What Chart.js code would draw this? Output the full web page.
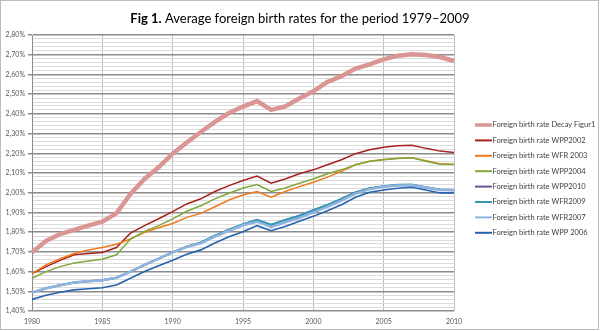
<!DOCTYPE html>
<html>
<head>
<meta charset="utf-8">
<script src="https://cdn.jsdelivr.net/npm/chart.js@4.4.1/dist/chart.umd.min.js"></script>
<style>
html,body{margin:0;padding:0;background:#fff;}
#wrap{width:600px;height:331px;position:relative;}
</style>
</head>
<body>
<div id="wrap"><canvas id="c" width="600" height="331"></canvas></div>
<script>
const years = [];
for (let y = 1980; y <= 2010; y++) years.push(String(y));

const titleBold = "Fig 1.";
const titleRest = " Average foreign birth rates for the period 1979\u20132009";

const seriesNames = [
  "Foreign birth rate Decay Figur1",
  "Foreign birth rate WPP2002",
  "Foreign birth rate WFR 2003",
  "Foreign birth rate WPP2004",
  "Foreign birth rate WPP2010",
  "Foreign birth rate WFR2009",
  "Foreign birth rate WFR2007",
  "Foreign birth rate WPP 2006"
];

const decayFigur1 = [1.697,1.756,1.790,1.812,1.833,1.853,1.895,1.994,2.070,2.129,2.198,2.255,2.308,2.359,2.404,2.437,2.465,2.420,2.438,2.478,2.515,2.562,2.591,2.630,2.651,2.676,2.695,2.702,2.698,2.688,2.668];
const wpp2002 = [1.590,1.625,1.657,1.685,1.692,1.697,1.722,1.795,1.833,1.868,1.904,1.943,1.969,2.006,2.036,2.062,2.084,2.048,2.070,2.096,2.116,2.142,2.167,2.198,2.218,2.231,2.238,2.241,2.225,2.211,2.204];
const wfr2003 = [1.590,1.634,1.665,1.692,1.710,1.722,1.739,1.765,1.799,1.822,1.844,1.875,1.895,1.929,1.963,1.988,2.006,1.977,2.006,2.031,2.053,2.079,2.108,2.142,2.160,2.169,2.175,2.177,2.162,2.147,2.145];
const wpp2004 = [1.566,1.600,1.625,1.643,1.654,1.663,1.685,1.765,1.804,1.833,1.867,1.906,1.934,1.969,1.997,2.024,2.041,2.006,2.024,2.048,2.070,2.096,2.116,2.142,2.160,2.167,2.174,2.177,2.160,2.145,2.143];
const wpp2010 = [1.493,1.515,1.531,1.544,1.551,1.556,1.569,1.600,1.634,1.666,1.697,1.726,1.747,1.781,1.812,1.839,1.861,1.837,1.861,1.882,1.911,1.937,1.968,2.001,2.022,2.032,2.039,2.040,2.027,2.015,2.013];
const wfr2009 = [1.493,1.515,1.531,1.544,1.551,1.556,1.569,1.600,1.634,1.666,1.697,1.726,1.748,1.782,1.813,1.840,1.862,1.838,1.862,1.883,1.912,1.938,1.969,2.002,2.023,2.033,2.040,2.041,2.028,2.016,2.014];
const wfr2007 = [1.493,1.515,1.531,1.544,1.551,1.556,1.569,1.600,1.634,1.666,1.697,1.726,1.743,1.777,1.807,1.835,1.853,1.827,1.850,1.872,1.900,1.928,1.960,1.995,2.018,2.030,2.037,2.038,2.026,2.014,2.012];
const wpp2006 = [1.459,1.480,1.495,1.507,1.513,1.518,1.532,1.566,1.600,1.629,1.658,1.688,1.710,1.745,1.777,1.802,1.833,1.807,1.829,1.855,1.880,1.909,1.939,1.977,2.002,2.014,2.023,2.028,2.014,1.999,1.999];

const seriesValues = [decayFigur1, wpp2002, wfr2003, wpp2004, wpp2010, wfr2009, wfr2007, wpp2006];
const seriesColors = ["#D99694","#A52220","#EE7A1E","#80A83A","#6E5494","#3399B5","#8FB4E0","#2662AE"];
const seriesWidths = [4.5,1.5,1.5,1.5,2,2,2.5,1.6];

const FONT = "Lato, 'Open Sans', 'Liberation Sans', sans-serif";

const datasets = seriesValues.map((vals, i) => ({
  label: seriesNames[i],
  data: vals,
  borderColor: seriesColors[i],
  backgroundColor: seriesColors[i],
  borderWidth: seriesWidths[i],
  pointRadius: 0,
  pointHoverRadius: 0,
  tension: 0,
  fill: false,
  order: seriesValues.length - i
}));

const extras = {
  id: 'extras',
  afterDraw(chart) {
    const ctx = chart.ctx;
    ctx.save();
    // outer border
    ctx.strokeStyle = '#bdbdbd';
    ctx.lineWidth = 1;
    ctx.strokeRect(0.5, 0.5, 598, 329);
    // title
    ctx.fillStyle = '#000';
    ctx.textBaseline = 'middle';
    ctx.font = "bold 13px " + FONT;
    const wb = ctx.measureText(titleBold).width;
    ctx.font = "13px " + FONT;
    const wr = ctx.measureText(titleRest).width;
    const x0 = 300 - (wb + wr) / 2;
    ctx.font = "bold 13px " + FONT;
    ctx.textAlign = 'left';
    ctx.fillText(titleBold, x0, 19);
    ctx.font = "13px " + FONT;
    ctx.fillText(titleRest, x0 + wb, 19);
    // legend
    ctx.font = "7.5px " + FONT;
    ctx.fillStyle = '#404040';
    chart.data.datasets.forEach((ds, i) => {
      const y = 125 + i * 15.4;
      ctx.strokeStyle = ds.borderColor;
      ctx.lineWidth = i === 0 ? 3.5 : 2;
      ctx.beginPath();
      ctx.moveTo(475, y);
      ctx.lineTo(492, y);
      ctx.stroke();
      ctx.fillText(ds.label, 492.5, y);
    });
    ctx.restore();
  }
};

new Chart(document.getElementById('c'), {
  type: 'line',
  data: { labels: years, datasets },
  options: {
    responsive: false,
    animation: false,
    devicePixelRatio: 1,
    layout: { padding: { top: 35, right: 146, bottom: 0, left: 0 } },
    plugins: { legend: { display: false }, tooltip: { enabled: false }, title: { display: false } },
    scales: {
      x: {
        type: 'category',
        offset: false,
        afterFit(s) { s.height = 20; },
        grid: {
          drawTicks: false,
          color: (c) => (c.index % 5 === 0 ? '#bfbfbf' : 'rgba(0,0,0,0)'),
          lineWidth: 1
        },
        border: { display: false },
        ticks: {
          autoSkip: false,
          maxRotation: 0,
          padding: 7,
          color: '#595959',
          font: { family: FONT, size: 7 },
          callback: function (v, i) { return i % 5 === 0 ? years[i] : ''; }
        }
      },
      y: {
        min: 1.4,
        max: 2.8,
        afterFit(s) { s.width = 32; },
        afterBuildTicks(s) {
          const t = [];
          for (let k = 0; k <= 70; k++) t.push({ value: Math.round((1.4 + k * 0.02) * 100) / 100 });
          s.ticks = t;
        },
        grid: {
          color: (c) => {
            const v = Math.round(c.tick.value * 100);
            return v % 10 === 0 ? '#8c8c8c' : '#dcdcdc';
          },
          lineWidth: (c) => (Math.round(c.tick.value * 100) % 10 === 0 ? 1.5 : 1),
          tickColor: (c) => (Math.round(c.tick.value * 100) % 10 === 0 ? '#8c8c8c' : 'rgba(0,0,0,0)'),
          tickLength: 4
        },
        border: { display: true, color: '#8c8c8c', width: 1 },
        ticks: {
          autoSkip: false,
          padding: 3,
          color: '#595959',
          font: { family: FONT, size: 7 },
          callback: function (v) {
            const n = Math.round(v * 100);
            if (n % 10 !== 0) return '';
            return (n / 100).toFixed(2).replace('.', ',') + '%';
          }
        }
      }
    }
  },
  plugins: [extras]
});
</script>
</body>
</html>
